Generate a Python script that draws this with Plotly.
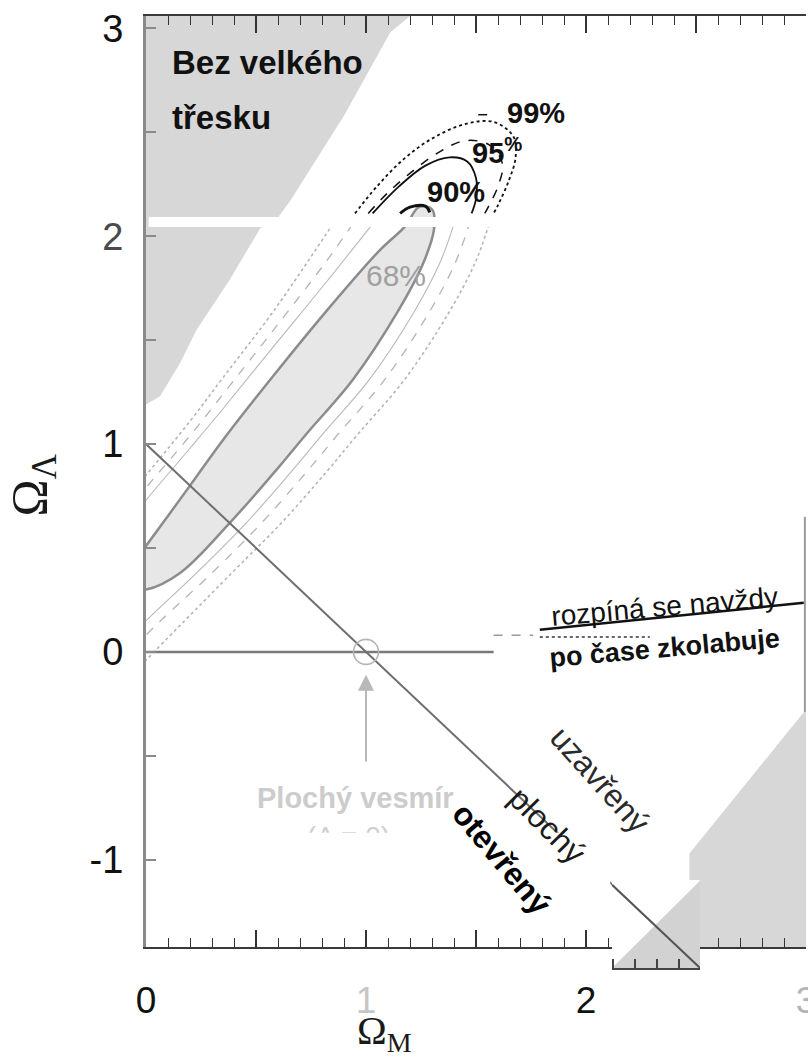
import plotly.graph_objects as go

# ---------------------------------------------------------------- axes
om_range = [0, 3]
ol_range = [-1.42, 3.06]
om_tickvals = [0, 0.5, 1, 1.5, 2, 2.5, 3]
om_ticktext = ["0", "", "<span style='color:#c6c6c6'>1</span>", "", "2", "",
               "<span style='color:#b5b5b5'>3</span>"]
ol_tickvals = [-1, -0.5, 0, 0.5, 1, 1.5, 2, 2.5, 3]
ol_ticktext = ["-1", "", "0", "", "1", "", "<span style='color:#4a4a4a'>2</span>", "", "3"]

# ------------------------------------------- "no big bang" region edge
nobb_om = [-0.1, 0.0, 0.064, 0.155, 0.23, 0.38, 0.52, 0.60, 0.655, 0.90, 1.11, 1.20, 1.25, -0.1]
nobb_ol = [1.15, 1.19, 1.23, 1.39, 1.55, 1.79, 2.04, 2.09, 2.17, 2.58, 2.98, 3.06, 3.15, 3.15]

# --------------------------------------- recollapse region (bottom right)
recol_om = [2.47, 2.47, 2.99, 3.05, 3.05]
recol_ol = [-1.5, -0.97, -0.29, -0.29, -1.5]

# ------------------------------------------------ 68 % confidence region
c68_om = [-0.1, 0.0, 0.155, 0.38, 0.58, 0.73, 0.94, 1.14, 1.26, 1.31, 1.30,
          1.24, 1.18, 1.06, 0.82, 0.58, 0.35, 0.2, 0.0, -0.1]
c68_ol = [0.31, 0.30, 0.38, 0.62, 0.86, 1.05, 1.31, 1.63, 1.87, 2.04, 2.13,
          2.14, 2.05, 1.93, 1.64, 1.33, 1.02, 0.80, 0.51, 0.37]
# cap of the 68 % contour above the break
c68_top_om = [1.155, 1.20, 1.27, 1.29]
c68_top_ol = [2.11, 2.14, 2.145, 2.115]

# ------------------------- 90 / 95 / 99 % contours below the break (two arms)
c90_om = [1.03, 0.82, 0.58, 0.35, 0.2, 0.0, -0.1, None,
          -0.1, 0.0, 0.23, 0.455, 0.655, 0.805, 1.015, 1.215, 1.335, 1.40]
c90_ol = [2.06, 1.78, 1.47, 1.17, 0.98, 0.73, 0.60, None,
          0.04, 0.15, 0.38, 0.62, 0.86, 1.05, 1.31, 1.63, 1.87, 2.06]
c95_om = [0.94, 0.82, 0.58, 0.35, 0.2, 0.0, -0.1, None,
          -0.1, 0.0, 0.30, 0.525, 0.725, 0.875, 1.085, 1.285, 1.405, 1.47]
c95_ol = [2.06, 1.88, 1.55, 1.24, 1.04, 0.79, 0.66, None,
          -0.05, 0.08, 0.38, 0.62, 0.86, 1.05, 1.31, 1.63, 1.87, 2.06]
c99_om = [0.85, 0.58, 0.35, 0.2, 0.0, -0.1, None,
          -0.1, 0.0, 0.39, 0.615, 0.815, 0.965, 1.175, 1.375, 1.495, 1.56]
c99_ol = [2.06, 1.64, 1.32, 1.11, 0.85, 0.72, None,
          -0.15, -0.04, 0.38, 0.62, 0.86, 1.05, 1.31, 1.63, 1.87, 2.06]

# ------------------------------- 90 / 95 / 99 % contours above the break
t90_om = [1.03, 1.15, 1.27, 1.38, 1.46, 1.50, 1.50, 1.48]
t90_ol = [2.11, 2.24, 2.34, 2.38, 2.36, 2.28, 2.18, 2.11]
t95_om = [1.01, 1.10, 1.22, 1.34, 1.45, 1.56, 1.62, 1.60, 1.56, 1.54]
t95_ol = [2.11, 2.21, 2.32, 2.41, 2.46, 2.44, 2.35, 2.24, 2.15, 2.11]
t99_om = [0.95, 1.05, 1.17, 1.30, 1.45, 1.58, 1.67, 1.68, 1.65, 1.60, 1.58]
t99_ol = [2.11, 2.24, 2.37, 2.47, 2.54, 2.55, 2.48, 2.38, 2.27, 2.15, 2.11]
lead99_om = [1.51, 1.58]
lead99_ol = [2.585, 2.585]

# ------------------------------------------------------ reference lines
flat_om = [0.0, 2.5]
flat_ol = [1.0, -1.5]
lam0_om = [0.0, 1.58]
lam0_ol = [0.0, 0.0]
expand_om = [1.79, 2.99]
expand_ol = [0.106, 0.236]
expand_dot_om = [1.79, 2.29]
expand_dot_ol = [0.072, 0.072]
expand_gray_om = [1.58, 1.76]
expand_gray_ol = [0.08, 0.08]
flat_point_om = [1.0]
flat_point_ol = [0.0]

# ------------------------------------------ shifted corner piece (x2/y2)
piece_om = [2.12, 2.52]
piece_ol = [-1.52, -1.097]
piece_tri_om = [2.12, 2.52, 2.52]
piece_tri_ol = [-1.52, -1.10, -1.52]
piece_ticks = [2.125, 2.225, 2.325, 2.425]

SANS = "Liberation Sans, Arial, sans-serif"
SERIF = "Liberation Serif, Times New Roman, serif"
GRAY_REGION = "#d7d7d7"

fig = go.Figure()

fig.add_trace(go.Scatter(x=nobb_om, y=nobb_ol, fill="toself", fillcolor=GRAY_REGION,
                         line=dict(width=0), mode="lines", hoverinfo="skip"))
fig.add_trace(go.Scatter(x=recol_om, y=recol_ol, fill="toself", fillcolor=GRAY_REGION,
                         line=dict(width=0), mode="lines", hoverinfo="skip"))

# outer contours, faint grey below the break
fig.add_trace(go.Scatter(x=c99_om, y=c99_ol, mode="lines", line_shape="spline",
                         line=dict(color="#b4b4b4", width=1.6, dash="dot"), hoverinfo="skip"))
fig.add_trace(go.Scatter(x=c95_om, y=c95_ol, mode="lines", line_shape="spline",
                         line=dict(color="#b4b4b4", width=1.3, dash="dash"), hoverinfo="skip"))
fig.add_trace(go.Scatter(x=c90_om, y=c90_ol, mode="lines", line_shape="spline",
                         line=dict(color="#b8b8b8", width=1.1), hoverinfo="skip"))

# 68 % region
fig.add_trace(go.Scatter(x=c68_om, y=c68_ol, fill="toself", fillcolor="#e7e7e7",
                         mode="lines", line_shape="spline",
                         line=dict(color="#8c8c8c", width=2.5), hoverinfo="skip"))

# reference lines
fig.add_trace(go.Scatter(x=lam0_om, y=lam0_ol, mode="lines",
                         line=dict(color="#7a7a7a", width=2.5), hoverinfo="skip"))
fig.add_trace(go.Scatter(x=flat_om, y=flat_ol, mode="lines",
                         line=dict(color="#6e6e6e", width=2), hoverinfo="skip"))
fig.add_trace(go.Scatter(x=flat_point_om, y=flat_point_ol, mode="markers",
                         marker=dict(symbol="circle-open", size=25, color="#b5b5b5",
                                     line=dict(color="#b5b5b5", width=1.6)),
                         hoverinfo="skip"))
fig.add_trace(go.Scatter(x=expand_om, y=expand_ol, mode="lines",
                         line=dict(color="#111111", width=2.5), hoverinfo="skip"))
fig.add_trace(go.Scatter(x=expand_dot_om, y=expand_dot_ol, mode="lines",
                         line=dict(color="#333333", width=1.5, dash="dot"), hoverinfo="skip"))
fig.add_trace(go.Scatter(x=expand_gray_om, y=expand_gray_ol, mode="lines",
                         line=dict(color="#999999", width=1.5, dash="dash"), hoverinfo="skip"))

# contours above the break, in black
fig.add_trace(go.Scatter(x=t99_om, y=t99_ol, mode="lines", line_shape="spline",
                         line=dict(color="#111111", width=1.8, dash="dot"), hoverinfo="skip"))
fig.add_trace(go.Scatter(x=t95_om, y=t95_ol, mode="lines", line_shape="spline",
                         line=dict(color="#111111", width=1.5, dash="dash"), hoverinfo="skip"))
fig.add_trace(go.Scatter(x=t90_om, y=t90_ol, mode="lines", line_shape="spline",
                         line=dict(color="#111111", width=1.8), hoverinfo="skip"))
fig.add_trace(go.Scatter(x=c68_top_om, y=c68_top_ol, mode="lines", line_shape="spline",
                         line=dict(color="#111111", width=3), hoverinfo="skip"))
fig.add_trace(go.Scatter(x=lead99_om, y=lead99_ol, mode="lines",
                         line=dict(color="#111111", width=1.5, dash="dash"), hoverinfo="skip"))

# caption partly hidden under the white band
fig.add_trace(go.Scatter(x=[0.92], y=[-0.90], mode="text", text=["(Λ = 0)"],
                         textfont=dict(family=SANS, size=28, color="#cfcfcf"),
                         hoverinfo="skip"))

# shifted corner piece
fig.add_trace(go.Scatter(x=[piece_om[0], piece_om[1], piece_om[1], piece_om[0]],
                         y=[piece_ol[0], piece_ol[0], piece_ol[1], piece_ol[1]],
                         xaxis="x2", yaxis="y2", fill="toself", fillcolor="white",
                         line=dict(width=0), mode="lines", hoverinfo="skip"))
fig.add_trace(go.Scatter(x=piece_tri_om, y=piece_tri_ol, xaxis="x2", yaxis="y2",
                         fill="toself", fillcolor="#d2d2d2", line=dict(width=0),
                         mode="lines", hoverinfo="skip"))
fig.add_trace(go.Scatter(x=piece_om, y=[1 - v for v in piece_om], xaxis="x2", yaxis="y2",
                         mode="lines", line=dict(color="#555555", width=2), hoverinfo="skip"))

# white bands
shapes = [
    dict(type="rect", xref="x", yref="y", x0=0.012, x1=1.57, y0=2.045, y1=2.093,
         fillcolor="white", line=dict(width=0), layer="above"),
    dict(type="rect", xref="x", yref="y", x0=0.06, x1=2.11, y0=-1.29, y1=-0.87,
         fillcolor="white", line=dict(width=0), layer="above"),
    dict(type="line", xref="x", yref="y", x0=2.995, x1=2.995, y0=-0.29, y1=0.65,
         line=dict(color="#9a9a9a", width=2), layer="above"),
]


def label(x, y, text, size, color="#111111", bold=False, angle=0, xanchor="center", family=SANS):
    if bold:
        text = "<b>" + text + "</b>"
    return dict(x=x, y=y, xref="x", yref="y", text=text, showarrow=False,
                textangle=angle, xanchor=xanchor, yanchor="middle",
                font=dict(family=family, size=size, color=color))


annotations = [
    label(0.109, 2.834, "Bez velkého", 33, bold=True, xanchor="left"),
    label(0.109, 2.57, "třesku", 33, bold=True, xanchor="left"),
    label(1.773, 2.594, "99%", 29, bold=True),
    label(1.473, 2.411, "95<sup>%</sup>", 29, bold=True, xanchor="left"),
    label(1.409, 2.214, "90%", 29, bold=True),
    label(1.136, 1.81, "68%", 30, color="#a0a0a0"),
    label(2.359, 0.217, "rozpíná se navždy", 28, angle=-5),
    label(2.359, 0.019, "po čase zkolabuje", 27, bold=True, angle=-5),
    label(0.95, -0.703, "Plochý vesmír", 29, color="#cccccc", bold=True),
    label(2.064, -0.616, "uzavřený", 32, color="#2a2a2a", angle=48),
    label(1.827, -0.837, "plochý", 32, color="#1a1a1a", angle=45),
    label(1.618, -0.996, "otevřený", 32, color="#000000", bold=True, angle=50),
    dict(x=1.0, y=-0.11, ax=1.0, ay=-0.535, xref="x", yref="y", axref="x", ayref="y",
         text="", showarrow=True, arrowhead=2, arrowsize=1.6, arrowwidth=2,
         arrowcolor="#b8b8b8"),
    dict(x=-0.171, y=0.507, xref="paper", yref="paper", text="Ω<sub>Λ</sub>",
         xanchor="center", yanchor="middle",
         showarrow=False, textangle=-90, font=dict(family=SERIF, size=50, color="#1a1a1a")),
    dict(x=0.362, y=-0.068, xref="paper", yref="paper", text="Ω<sub>M</sub>",
         xanchor="center", yanchor="middle",
         showarrow=False, font=dict(family=SERIF, size=40, color="#1a1a1a")),
]

fig.update_layout(
    width=808, height=1057,
    margin=dict(l=146, r=2, t=16, b=89, autoexpand=False),
    paper_bgcolor="white", plot_bgcolor="white",
    showlegend=False, hovermode=False,
    shapes=shapes, annotations=annotations,
    xaxis=dict(range=om_range, domain=[0, 1], anchor="y", showgrid=False, zeroline=False,
               automargin=False,
               showline=True, linecolor="#3a3a3a", linewidth=2, mirror="ticks",
               ticks="inside", ticklen=17, tickwidth=1.5, tickcolor="#333333",
               tickvals=om_tickvals, ticktext=om_ticktext, ticklabelstandoff=20,
               ticklabeloverflow="allow",
               tickfont=dict(family=SANS, size=37, color="#111111"),
               minor=dict(dtick=0.1, tick0=0, ticks="inside", ticklen=9,
                          tickwidth=1.2, tickcolor="#333333")),
    yaxis=dict(range=ol_range, domain=[0.0221, 1], anchor="x", showgrid=False, zeroline=False,
               automargin=False,
               showline=True, linecolor="#8a8a8a", linewidth=3,
               ticks="inside", ticklen=10, tickwidth=1.5, tickcolor="#8a8a8a",
               tickvals=ol_tickvals, ticktext=ol_ticktext, ticklabelstandoff=12,
               ticklabeloverflow="allow",
               tickfont=dict(family=SANS, size=38, color="#111111")),
    xaxis2=dict(range=[piece_om[0], piece_om[1]], domain=[0.7061, 0.8394], anchor="y2",
                automargin=False,
                showgrid=False, zeroline=False, showline=True, linecolor="#444444",
                linewidth=2, ticks="inside", ticklen=9, tickwidth=1.5, tickcolor="#444444",
                tickvals=piece_ticks, showticklabels=False),
    yaxis2=dict(range=piece_ol, domain=[0, 0.0924], anchor="x2", visible=False,
                automargin=False),
)

fig.write_html("out.html")
